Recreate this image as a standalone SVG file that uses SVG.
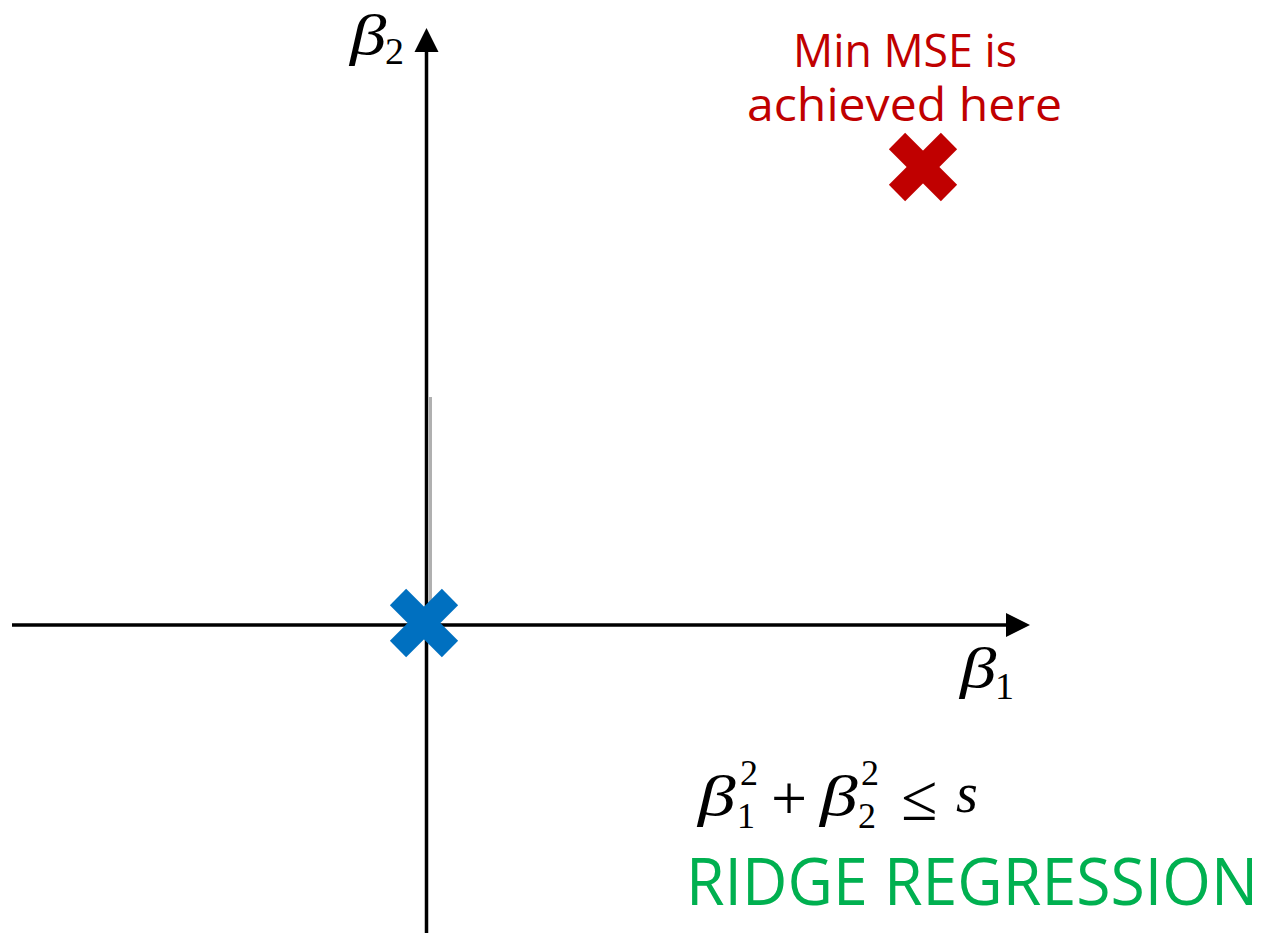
<svg xmlns="http://www.w3.org/2000/svg" width="1270" height="933" viewBox="0 0 1270 933">
<style>
.axis{stroke:#000;stroke-width:3.5;fill:none}
.head{fill:#000}
.math{font-family:"Liberation Serif","Times New Roman",serif;fill:#000}
.it{font-style:italic}
.lbl{font-family:"Open Sans","Roboto",sans-serif}
.xr{stroke:#C00000;stroke-width:23;stroke-linecap:butt}
.xb{stroke:#0070C0;stroke-width:23;stroke-linecap:butt}
</style>
<rect width="1270" height="933" fill="#fff"/>
<g id="connectors">
  <line x1="430.5" y1="397" x2="430.5" y2="626" stroke="#b0b0b0" stroke-width="3"/>
  <line class="axis" x1="426.5" y1="933" x2="426.5" y2="50"/>
  <polygon class="head" points="426.5,28 414.5,52 438.5,52"/>
  <line class="axis" x1="12" y1="625" x2="1008" y2="625"/>
  <polygon class="head" points="1030,625 1006,613 1006,637"/>
</g>
<g id="axis-label-b2">
  <text class="math it" transform="translate(350,54) scale(1.3,1)" font-size="56">β</text>
  <text class="math" x="385" y="64" font-size="38">2</text>
</g>
<g id="axis-label-b1">
  <text class="math it" transform="translate(960,687) scale(1.3,1)" font-size="56">β</text>
  <text class="math" x="995" y="699" font-size="38">1</text>
</g>
<g id="min-mse-label">
  <text class="lbl" x="793" y="67" font-size="46" fill="#C00000" textLength="224" lengthAdjust="spacingAndGlyphs">Min MSE is</text>
  <text class="lbl" x="747" y="121" font-size="46" fill="#C00000" textLength="315" lengthAdjust="spacingAndGlyphs">achieved here</text>
</g>
<g id="min-mse-point">
  <line class="xr" x1="897" y1="141" x2="949" y2="193"/>
  <line class="xr" x1="949" y1="141" x2="897" y2="193"/>
</g>
<g id="origin-point">
  <line class="xb" x1="398" y1="597" x2="450" y2="649"/>
  <line class="xb" x1="450" y1="597" x2="398" y2="649"/>
</g>
<g id="constraint">
  <text class="math it" transform="translate(698,815) scale(1.3,1)" font-size="58">β</text>
  <text class="math" x="740" y="785" font-size="36">2</text>
  <text class="math" x="737" y="828" font-size="36">1</text>
  <text class="math" x="771" y="820" font-size="64">+</text>
  <text class="math it" transform="translate(820,815) scale(1.3,1)" font-size="58">β</text>
  <text class="math" x="861" y="785" font-size="36">2</text>
  <text class="math" x="858" y="828" font-size="36">2</text>
  <text class="math" x="901" y="820" font-size="66">≤</text>
  <text class="math it" x="956" y="812" font-size="56">s</text>
</g>
<g id="title">
  <text class="lbl" x="686" y="905" font-size="65" fill="#00B050" textLength="572" lengthAdjust="spacingAndGlyphs">RIDGE REGRESSION</text>
</g>
</svg>
